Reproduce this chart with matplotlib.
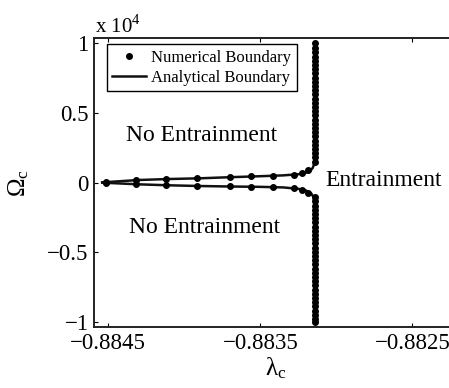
import numpy as np
import matplotlib.pyplot as plt

plt.rcParams['font.family'] = ['Liberation Serif', 'DejaVu Serif']
plt.rcParams['mathtext.fontset'] = 'custom'
plt.rcParams['mathtext.rm'] = 'Liberation Serif'

# numerical boundary, near-horizontal part (both branches)
lam_h = [-0.884517, -0.884318, -0.884120, -0.883918, -0.883700, -0.883561,
         -0.883418, -0.883276, -0.883228, -0.883184, -0.883141]
om_up_h = [15, 178, 249, 299, 380, 441, 484, 555, 655, 890, 1480]
om_lo_h = [-15, -128, -199, -249, -280, -300, -320, -413, -534, -726, -1010]

# numerical boundary, vertical part
lam_v = -0.883138
om_up_v = [1800, 2100, 2400, 2700, 3000, 3300, 3600, 3900, 4200, 4500, 4800,
           5100, 5400, 5700, 6000, 6300, 6600, 6900, 7200, 7500, 7800, 8100,
           8400, 8700, 9000, 9300, 9600, 10000]
om_lo_v = [-1350, -1650, -1950, -2250, -2550, -2850, -3150, -3450, -3750,
           -4050, -4350, -4650, -4950, -5250, -5550, -5850, -6150, -6450,
           -6750, -7050, -7350, -7650, -7950, -8250, -8550, -8850, -9150,
           -9450, -9750, -10000]

# analytical boundary
an_lam_up = [-0.884540, -0.884300, -0.884100, -0.883900, -0.883700, -0.883500,
             -0.883350, -0.883250, -0.883200, -0.883170, -0.883155, -0.883145,
             -0.883140, -0.883138, -0.883138]
an_om_up = [10, 180, 250, 300, 380, 450, 510, 590, 700, 850, 1050, 1350,
            1800, 3000, 10000]
an_lam_lo = [-0.884540, -0.884300, -0.884100, -0.883900, -0.883700, -0.883500,
             -0.883350, -0.883250, -0.883200, -0.883165, -0.883150, -0.883142,
             -0.883138, -0.883138]
an_om_lo = [-10, -130, -200, -250, -285, -310, -350, -450, -570, -780, -1050,
            -1500, -3000, -10000]

fig = plt.figure(figsize=(4.49, 3.88), dpi=100)
ax = fig.add_axes([0.210, 0.1564, 0.81, 0.7464])

ax.plot(an_lam_up, an_om_up, '-', color='#111111', lw=1.8,
        label='Analytical Boundary')
ax.plot(an_lam_lo, an_om_lo, '-', color='#111111', lw=1.8)
num_lam = lam_h + [lam_v] * len(om_up_v) + lam_h + [lam_v] * len(om_lo_v)
num_om = om_up_h + om_up_v + om_lo_h + om_lo_v
ax.plot(num_lam, num_om, 'o', color='black', ms=4.0, ls='none',
        label='Numerical Boundary')

ax.set_xlim(-0.884592, -0.8822)
ax.set_ylim(-10350, 10350)
ax.set_xticks([-0.8845, -0.8835, -0.8825])
ax.set_xticklabels(['\u22120.8845', '\u22120.8835', '\u22120.8825'])
ax.set_yticks([-10000, -5000, 0, 5000, 10000])
ax.set_yticklabels(['\u22121', '\u22120.5', '0', '0.5', '1'])
ax.tick_params(direction='in', length=3, width=0.8, labelsize=16.5,
               top=True, right=True, pad=4)
for s in ax.spines.values():
    s.set_linewidth(1.4)
    s.set_color('#222222')

ax.set_xlabel(r'$\mathregular{\lambda_c}$', fontsize=18, labelpad=1)
ax.set_ylabel(r'$\mathregular{\Omega_c}$', fontsize=18, labelpad=12,
              rotation=90)

fig.text(95 / 449, 1 - 33 / 388, r'x 10$^\mathregular{4}$', fontsize=15,
         va='baseline', ha='left')

ax.text(-0.884384, 3381, 'No Entrainment', fontsize=17, va='center')
ax.text(-0.884364, -3238, 'No Entrainment', fontsize=17, va='center')
ax.text(-0.883074, 178, 'Entrainment', fontsize=17, va='center')

h, l = ax.get_legend_handles_labels()
leg = ax.legend(h[::-1], l[::-1], loc='upper left',
                bbox_to_anchor=(0.034, 0.977), borderaxespad=0,
                fontsize=12, handlelength=2.0, handletextpad=0.3,
                borderpad=0.35, labelspacing=0.2, fancybox=False,
                frameon=True, framealpha=1)
leg.get_frame().set_edgecolor('black')
leg.get_frame().set_linewidth(1.0)

fig.savefig('out.png', dpi=100)
